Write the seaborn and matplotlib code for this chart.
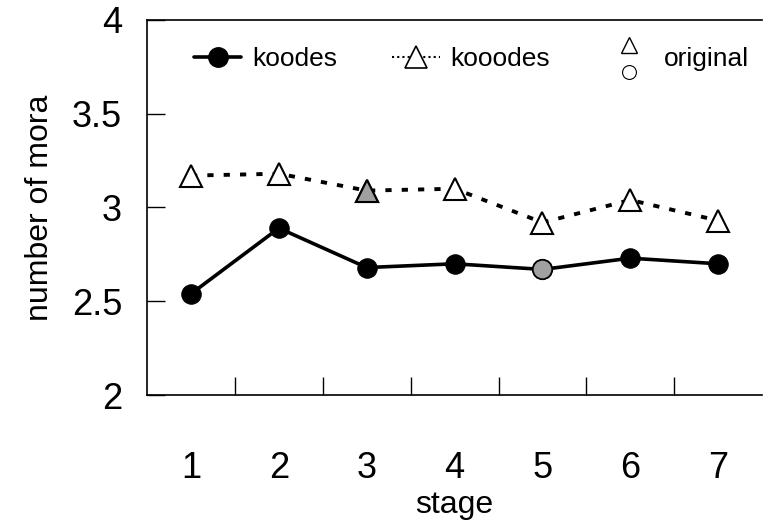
import matplotlib
matplotlib.use("Agg")
import matplotlib.pyplot as plt
import seaborn as sns
import pandas as pd
import numpy as np
from matplotlib.lines import Line2D
from matplotlib.legend_handler import HandlerBase

stages = [1, 2, 3, 4, 5, 6, 7]
koodes = [2.54, 2.89, 2.68, 2.70, 2.67, 2.73, 2.70]
kooodes = [3.17, 3.18, 3.09, 3.10, 2.92, 3.04, 2.93]
koodes_original_stage = 5
kooodes_original_stage = 3
ytick_vals = [2, 2.5, 3, 3.5, 4]
ytick_labels = ["2", "2.5", "3", "3.5", "4"]

sns.set_theme(style="white")
plt.rcParams['font.family'] = ['Liberation Sans Narrow', 'Liberation Sans', 'DejaVu Sans']
plt.rcParams['text.color'] = 'black'
plt.rcParams['axes.labelcolor'] = 'black'
plt.rcParams['xtick.color'] = 'black'
plt.rcParams['ytick.color'] = 'black'

df = pd.DataFrame({
    "stage": stages * 2,
    "mora": koodes + kooodes,
    "word": ["koodes"] * 7 + ["kooodes"] * 7,
})

fig = plt.figure(figsize=(7.66, 5.22), dpi=100)
ax = fig.add_axes([0.192, 0.243, 0.803, 0.719])

d1 = df[df.word == "koodes"]
d2 = df[df.word == "kooodes"]
sns.lineplot(data=d1, x="stage", y="mora", ax=ax, color="black", lw=2.6,
             marker="o", markersize=14, markerfacecolor="black",
             markeredgecolor="black", legend=False)
sns.lineplot(data=d2, x="stage", y="mora", ax=ax, color="black", lw=2.8,
             linestyle=(0, (1.6, 2.6)), marker="^", markersize=16,
             markerfacecolor="white", markeredgecolor="black",
             markeredgewidth=1.5, legend=False)

# original (gray) markers
i5 = stages.index(koodes_original_stage)
i3 = stages.index(kooodes_original_stage)
ax.plot([stages[i5]], [koodes[i5]], marker="o", ms=14, mfc="#a0a0a0",
        mec="black", mew=1.3, ls="none", zorder=5)
ax.plot([stages[i3]], [kooodes[i3]], marker="^", ms=16, mfc="#a0a0a0",
        mec="black", mew=1.5, ls="none", zorder=5)

ax.set_xlim(0.5, 7.5)
ax.set_ylim(2, 4)
ax.set_xticks(stages)
ax.set_xticklabels([str(s) for s in stages], fontsize=26)
ax.set_xticks([s + 0.5 for s in stages[:-1]], minor=True)
ax.tick_params(axis="x", which="major", length=0, pad=40)
ax.tick_params(axis="x", which="minor", direction="in", length=13, width=1, color="black", bottom=True)
ax.set_yticks(ytick_vals)
ax.set_yticklabels(ytick_labels, fontsize=26)
ax.tick_params(axis="y", which="major", direction="in", length=13, width=1, color="black", left=True, pad=18)

ax.set_xlabel("stage", fontsize=23, labelpad=3)
ax.set_ylabel("number of mora", fontsize=23, labelpad=12)

for s in ["left", "bottom", "top"]:
    ax.spines[s].set_visible(True)
    ax.spines[s].set_color("black")
    ax.spines[s].set_linewidth(1.2)
ax.spines["right"].set_visible(False)


class StackHandler(HandlerBase):
    def create_artists(self, legend, orig_handle, xdescent, ydescent,
                       width, height, fontsize, trans):
        cx = width / 2 - xdescent
        a = Line2D([cx], [height * 1.15], marker="^", ms=12, mfc="white",
                   mec="black", mew=1.0, ls="none", transform=trans)
        b = Line2D([cx], [-height * 0.3], marker="o", ms=10, mfc="white",
                   mec="black", mew=0.8, ls="none", transform=trans)
        return [a, b]


h1 = Line2D([], [], color="black", lw=2.6, marker="o", ms=14, mfc="black")
h2 = Line2D([], [], color="black", lw=1.5, ls=(0, (1, 1.5)), marker="^", ms=16,
            mfc="white", mec="black", mew=1.2)
h3 = object()
leg = ax.legend([h1, h2, h3], ["koodes", "kooodes", "original"],
                handler_map={h3: StackHandler()}, ncol=3, loc="upper center",
                bbox_to_anchor=(0.527, 0.99), frameon=False, fontsize=19,
                handlelength=1.8, columnspacing=2.1, handletextpad=0.4)

fig.savefig("out.png", dpi=100, facecolor="white")
